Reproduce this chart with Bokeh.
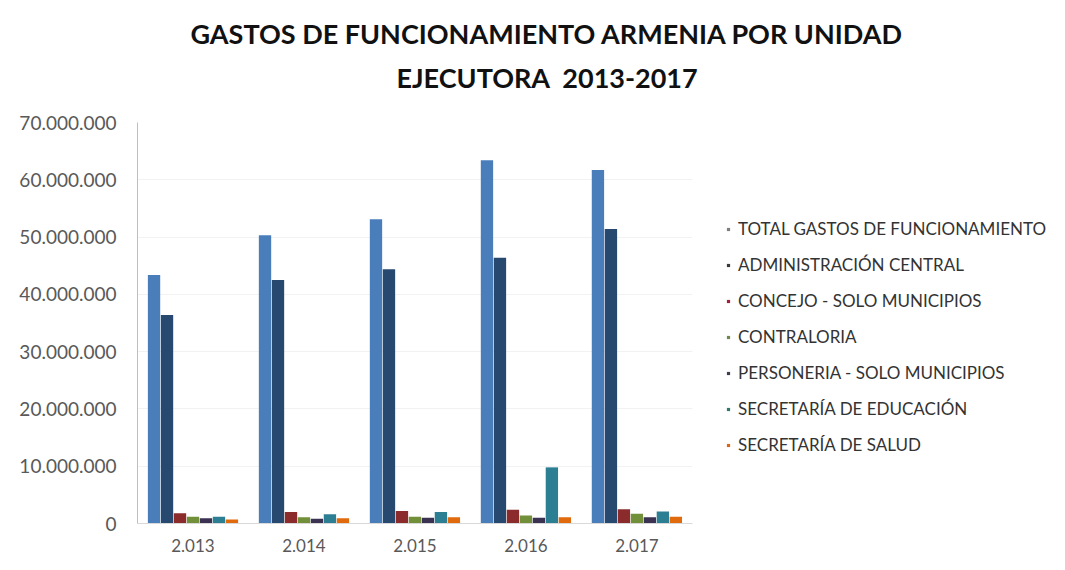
from bokeh.plotting import figure
from bokeh.models import Range1d, Legend, LegendItem, CustomJSTickFormatter, Title, FixedTicker
from bokeh.transform import dodge
from bokeh.embed import file_html
from bokeh.resources import INLINE

years = ["2.013", "2.014", "2.015", "2.016", "2.017"]
series_names = [
    "TOTAL GASTOS DE FUNCIONAMIENTO",
    "ADMINISTRACIÓN CENTRAL",
    "CONCEJO - SOLO MUNICIPIOS",
    "CONTRALORIA",
    "PERSONERIA - SOLO MUNICIPIOS",
    "SECRETARÍA DE EDUCACIÓN",
    "SECRETARÍA DE SALUD",
]
total = [43.4e6, 50.3e6, 53.1e6, 63.4e6, 61.7e6]
administracion = [36.4e6, 42.5e6, 44.4e6, 46.4e6, 51.4e6]
concejo = [1.8e6, 2.0e6, 2.2e6, 2.4e6, 2.5e6]
contraloria = [1.2e6, 1.1e6, 1.2e6, 1.4e6, 1.7e6]
personeria = [0.9e6, 0.85e6, 1.0e6, 1.0e6, 1.1e6]
educacion = [1.2e6, 1.6e6, 2.0e6, 9.8e6, 2.1e6]
salud = [0.7e6, 0.9e6, 1.1e6, 1.1e6, 1.2e6]
series_values = [total, administracion, concejo, contraloria, personeria, educacion, salud]
y_ticks = [0, 10e6, 20e6, 30e6, 40e6, 50e6, 60e6, 70e6]

colors = ["#4a7ebb", "#27496f", "#8c2b2b", "#72903a", "#3b3150", "#2c7f93", "#e06a0c"]
legend_colors = ["#7f7f7f", "#3a3a3a", "#a3203a", "#6d8a4a", "#3f3f4f", "#2f7a6a", "#d9651a"]

FONT = "Lato"
W, H = 1057, 554

# x: category index; the frame extends to the right to host the legend
p = figure(x_range=Range1d(-0.5, 7.79), y_range=Range1d(0, 70e6),
           width=W, height=H, output_backend="svg", toolbar_location=None,
           min_border_left=137, min_border_right=0, min_border_top=122,
           min_border_bottom=30, outline_line_color=None)

idx = list(range(len(years)))
data = {"idx": idx}
keys = []
for i, vals in enumerate(series_values):
    k = f"s{i}"
    keys.append(k)
    data[k] = vals

bw = 0.117
for i, k in enumerate(keys):
    p.vbar(x=dodge("idx", (i - 3) * bw), top=k, width=bw * 0.95,
           source=data, color=colors[i], line_color=None)

# legend proxies (off-screen)
legend_renderers = []
for i in range(len(series_names)):
    lr = p.scatter(x=[0], y=[-1e9], marker="square", size=8,
                   color=legend_colors[i], line_color=None)
    legend_renderers.append(lr)

items = [LegendItem(label=series_names[i], renderers=[legend_renderers[i]]) for i in range(len(series_names))]
legend = Legend(items=items, location=(587, 68), margin=0, padding=0,
                glyph_width=8, glyph_height=8, label_standoff=6, spacing=15,
                label_text_font=FONT, label_text_font_size="17px", label_text_color="#333333",
                border_line_color=None, background_fill_alpha=0)
p.add_layout(legend, "center")

p.yaxis.formatter = CustomJSTickFormatter(code="""
return Math.round(tick).toString().replace(/\\B(?=(\\d{3})+(?!\\d))/g, ".");
""")
p.yaxis.ticker = y_ticks
p.yaxis.major_tick_line_color = None
p.yaxis.minor_tick_line_color = None
p.yaxis.axis_line_color = "#bfbfbf"
p.yaxis.major_label_standoff = 15
p.yaxis.major_label_text_font = FONT
p.yaxis.major_label_text_font_size = "19px"
p.yaxis.major_label_text_color = "#595959"

p.xaxis.ticker = FixedTicker(ticks=idx)
p.xaxis.major_label_overrides = {i: y for i, y in zip(idx, years)}
p.xaxis.bounds = (-0.5, len(years) - 0.5)
p.xaxis.major_tick_line_color = None
p.xaxis.minor_tick_line_color = None
p.xaxis.axis_line_color = "#d9d9d9"
p.xaxis.major_label_standoff = 9
p.xaxis.major_label_text_font = FONT
p.xaxis.major_label_text_font_size = "17px"
p.xaxis.major_label_text_color = "#595959"

p.xgrid.grid_line_color = None
p.ygrid.grid_line_color = "#f2f2f2"
try:
    p.ygrid.cross_bounds = (-0.5, len(years) - 0.5)
except Exception:
    pass

t2 = Title(text="EJECUTORA\u00a0 2013-2017", align="left", offset=259,
           text_font=FONT, text_font_style="bold", text_font_size="27px",
           text_color="#111111", standoff=58)
t1 = Title(text="GASTOS DE FUNCIONAMIENTO ARMENIA POR UNIDAD", align="left", offset=53,
           text_font=FONT, text_font_style="bold", text_font_size="27px",
           text_color="#111111", standoff=-40)
p.add_layout(t2, "above")
p.add_layout(t1, "above")

open("out.html", "w").write(file_html(p, INLINE))
